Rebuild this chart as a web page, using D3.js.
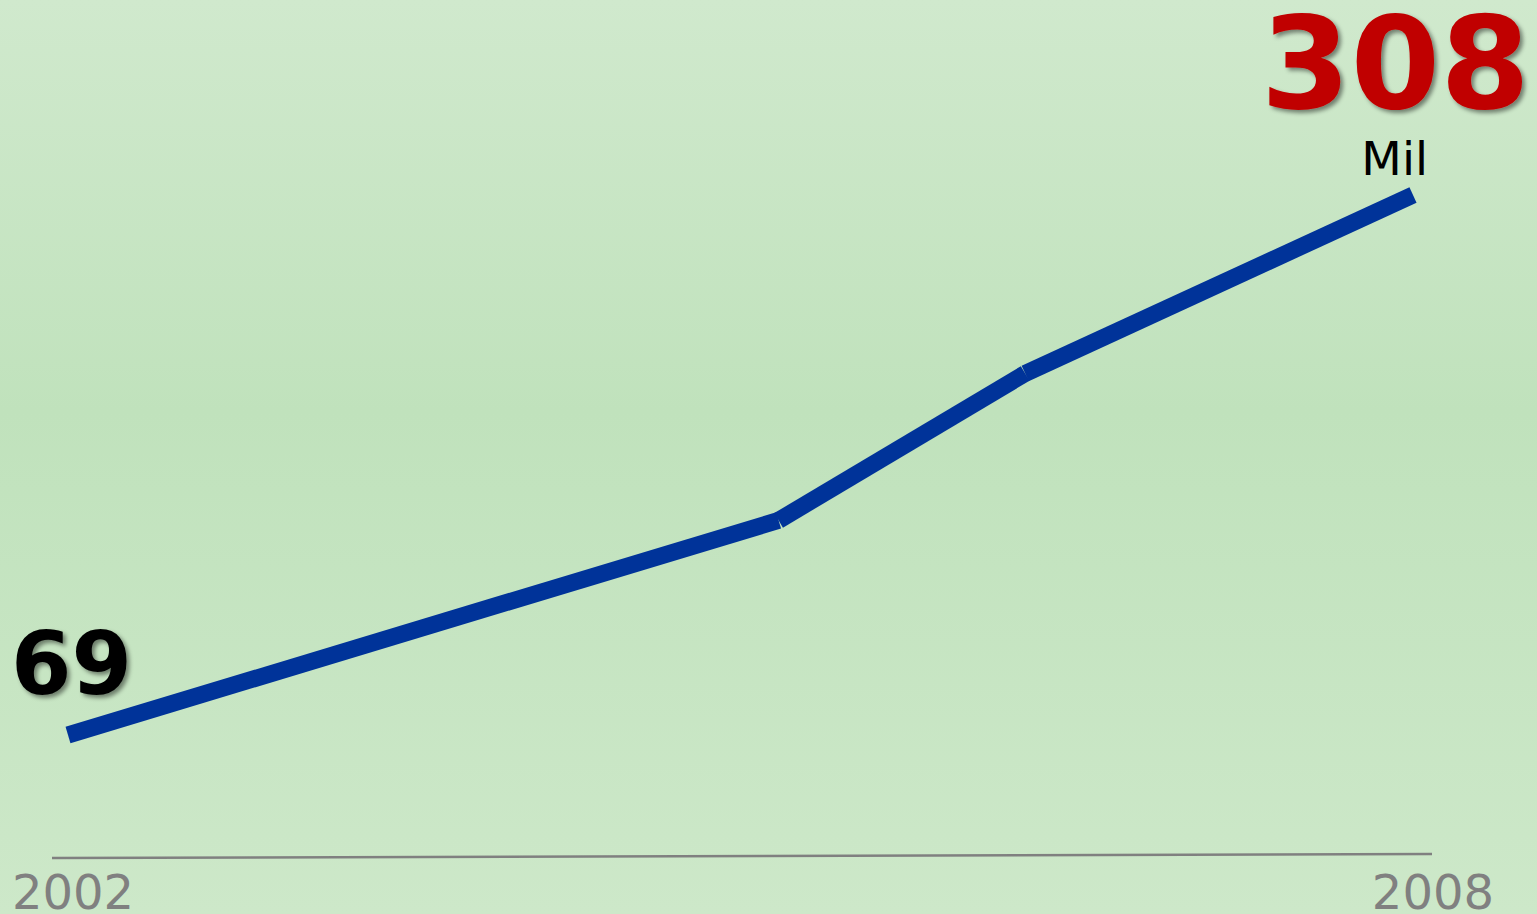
<!DOCTYPE html>
<html>
<head>
<meta charset="utf-8">
<script src="https://cdn.jsdelivr.net/npm/d3@7"></script>
<style>
  html, body { margin: 0; padding: 0; overflow: hidden; }
  svg { display: block; font-family: "DejaVu Sans", sans-serif; }
</style>
</head>
<body>
<div id="chart"></div>
<script>
// values (thousands)
var years = [2002, 2005.17, 2006.27, 2008];
var values = [69, 164, 229, 308];
var tickLabels = ["2002", "2008"];
var unitLabel = "Mil";

var width = 1537, height = 914;

var x = d3.scaleLinear().domain([2002, 2008]).range([68, 1413]);
var y = d3.scaleLinear().domain([69, 308]).range([735, 195]);

var svg = d3.select("#chart").append("svg")
    .attr("width", width)
    .attr("height", height);

var defs = svg.append("defs");
var grad = defs.append("linearGradient")
    .attr("id", "bg")
    .attr("x1", 0).attr("y1", 0).attr("x2", 0).attr("y2", 1);
grad.append("stop").attr("offset", "0%").attr("stop-color", "#d0e9cd");
grad.append("stop").attr("offset", "45%").attr("stop-color", "#c0e2bc");
grad.append("stop").attr("offset", "100%").attr("stop-color", "#cde8c9");

var shadow = defs.append("filter").attr("id", "shadow")
    .attr("x", "-10%").attr("y", "-10%").attr("width", "130%").attr("height", "130%");
shadow.append("feDropShadow")
    .attr("dx", 3).attr("dy", 3)
    .attr("stdDeviation", 2)
    .attr("flood-color", "#000")
    .attr("flood-opacity", 0.45);

svg.append("rect")
    .attr("width", width).attr("height", height)
    .attr("fill", "url(#bg)");

// baseline (slightly tilted in the original)
svg.append("line")
    .attr("x1", 52).attr("y1", 858)
    .attr("x2", 1432).attr("y2", 854)
    .attr("stroke", "#808080")
    .attr("stroke-width", 2.5);

// each segment drawn on its own, butt caps
var pts = years.map(function(d, i) { return [x(d), y(values[i])]; });
var segs = d3.pairs(pts);
svg.selectAll(".seg")
    .data(segs)
    .enter().append("line")
    .attr("class", "seg")
    .attr("x1", function(d) { return d[0][0]; })
    .attr("y1", function(d) { return d[0][1]; })
    .attr("x2", function(d) { return d[1][0]; })
    .attr("y2", function(d) { return d[1][1]; })
    .attr("stroke", "#003399")
    .attr("stroke-width", 17)
    .attr("stroke-linecap", "butt");

// year labels
svg.append("text")
    .attr("x", 12).attr("y", 909)
    .attr("font-size", 48)
    .attr("fill", "#808080")
    .text(tickLabels[0]);
svg.append("text")
    .attr("x", 1494).attr("y", 909)
    .attr("text-anchor", "end")
    .attr("font-size", 48)
    .attr("fill", "#808080")
    .text(tickLabels[1]);

// start and end values
svg.append("text")
    .attr("x", 11).attr("y", 694)
    .attr("font-size", 87)
    .attr("font-weight", "bold")
    .attr("fill", "#000")
    .attr("filter", "url(#shadow)")
    .text(values[0]);

svg.append("text")
    .attr("x", 1530).attr("y", 108)
    .attr("text-anchor", "end")
    .attr("font-size", 129)
    .attr("font-weight", "bold")
    .attr("fill", "#c00000")
    .attr("filter", "url(#shadow)")
    .text(values[values.length - 1]);

svg.append("text")
    .attr("x", 1428).attr("y", 175)
    .attr("text-anchor", "end")
    .attr("font-size", 47)
    .attr("fill", "#000")
    .text(unitLabel);
</script>
</body>
</html>
